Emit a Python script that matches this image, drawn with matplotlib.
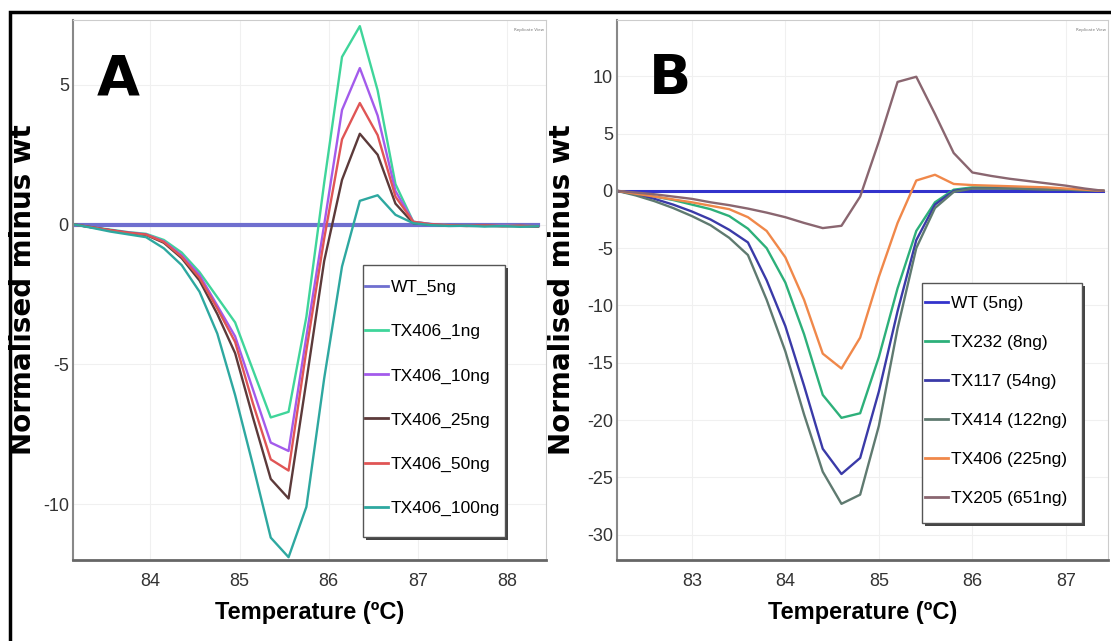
import matplotlib
matplotlib.use("Agg")
import matplotlib.pyplot as plt
from matplotlib import font_manager
from matplotlib.patches import Rectangle

# --- Panel A data (temperature, normalised minus wt) ---
temp_a = [83.15, 83.35, 83.55, 83.75, 83.95, 84.15, 84.35, 84.55, 84.75, 84.95,
          85.15, 85.35, 85.55, 85.75, 85.95, 86.15, 86.35, 86.55, 86.75, 86.95,
          87.15, 87.35, 87.55, 87.75, 87.95, 88.15, 88.35]
wt_5ng = [0.0] * 27
tx406_1ng = [0.0, -0.1, -0.18, -0.27, -0.33, -0.55, -1.0, -1.7, -2.6, -3.5,
             -5.2, -6.9, -6.7, -3.3, 1.5, 6.0, 7.1, 4.8, 1.45, 0.1,
             0.02, -0.02, -0.03, -0.04, -0.03, -0.05, -0.06]
tx406_10ng = [0.0, -0.1, -0.2, -0.28, -0.35, -0.6, -1.1, -1.8, -2.9, -4.0,
              -5.9, -7.8, -8.1, -4.0, 0.0, 4.1, 5.6, 3.9, 1.2, 0.1,
              0.02, -0.02, -0.03, -0.04, -0.03, -0.05, -0.06]
tx406_25ng = [0.0, -0.1, -0.2, -0.3, -0.37, -0.65, -1.2, -2.0, -3.2, -4.6,
              -6.9, -9.1, -9.8, -5.6, -1.3, 1.6, 3.25, 2.5, 0.75, 0.05,
              0.0, -0.03, -0.05, -0.04, -0.06, -0.05, -0.07]
tx406_50ng = [0.0, -0.1, -0.2, -0.29, -0.36, -0.62, -1.15, -1.9, -3.0, -4.2,
              -6.4, -8.4, -8.8, -4.5, -0.5, 3.05, 4.35, 3.2, 1.0, 0.1,
              0.01, -0.02, -0.04, -0.03, -0.05, -0.04, -0.06]
tx406_100ng = [0.0, -0.12, -0.25, -0.35, -0.45, -0.85, -1.45, -2.4, -3.9, -6.1,
               -8.6, -11.2, -11.9, -10.1, -5.5, -1.5, 0.85, 1.05, 0.35, 0.05,
               -0.02, -0.05, -0.04, -0.07, -0.05, -0.08, -0.06]

labels_a = ["WT_5ng", "TX406_1ng", "TX406_10ng", "TX406_25ng", "TX406_50ng", "TX406_100ng"]
series_a = [wt_5ng, tx406_1ng, tx406_10ng, tx406_25ng, tx406_50ng, tx406_100ng]
colors_a = ["#6f6fcf", "#3fd59a", "#a35beb", "#5c3a3a", "#e05555", "#2ea8a0"]

# --- Panel B data ---
temp_b = [82.2, 82.4, 82.6, 82.8, 83.0, 83.2, 83.4, 83.6, 83.8, 84.0,
          84.2, 84.4, 84.6, 84.8, 85.0, 85.2, 85.4, 85.6, 85.8, 86.0,
          86.2, 86.4, 86.6, 86.8, 87.0, 87.2, 87.4]
wt = [0.0] * 27
tx232 = [0.0, -0.25, -0.5, -0.8, -1.2, -1.6, -2.2, -3.3, -5.0, -8.0,
         -12.5, -17.8, -19.8, -19.4, -14.5, -8.5, -3.5, -1.0, 0.1, 0.3,
         0.3, 0.25, 0.2, 0.15, 0.1, 0.05, 0.0]
tx117 = [0.0, -0.3, -0.7, -1.2, -1.8, -2.5, -3.4, -4.5, -7.8, -11.8,
         -17.0, -22.5, -24.7, -23.3, -17.5, -10.5, -4.3, -1.2, 0.0, 0.2,
         0.2, 0.2, 0.15, 0.1, 0.1, 0.05, 0.0]
tx414 = [0.0, -0.4, -0.9, -1.5, -2.2, -3.0, -4.1, -5.6, -9.5, -14.0,
         -19.5, -24.5, -27.3, -26.5, -20.5, -12.0, -5.0, -1.5, -0.1, 0.2,
         0.2, 0.2, 0.15, 0.1, 0.1, 0.05, 0.0]
tx406 = [0.0, -0.25, -0.5, -0.75, -1.0, -1.3, -1.6, -2.3, -3.5, -5.8,
         -9.5, -14.2, -15.5, -12.8, -7.5, -2.8, 0.9, 1.4, 0.6, 0.5,
         0.45, 0.4, 0.35, 0.3, 0.2, 0.1, 0.0]
tx205 = [0.0, -0.15, -0.3, -0.5, -0.7, -1.0, -1.25, -1.55, -1.9, -2.3,
         -2.8, -3.25, -3.05, -0.5, 4.3, 9.5, 9.95, 6.7, 3.3, 1.6,
         1.3, 1.05, 0.85, 0.65, 0.45, 0.2, 0.0]

labels_b = ["WT (5ng)", "TX232 (8ng)", "TX117 (54ng)", "TX414 (122ng)", "TX406 (225ng)", "TX205 (651ng)"]
series_b = [wt, tx232, tx117, tx414, tx406, tx205]
colors_b = ["#3333cc", "#2db07a", "#3a3aa8", "#5f7a70", "#f0884a", "#8a6670"]

names = {f.name for f in font_manager.fontManager.ttflist}
narrow = "Liberation Sans Narrow" if "Liberation Sans Narrow" in names else "Liberation Sans"

fig = plt.figure(figsize=(11.11, 6.41), dpi=100)
W, H = 1111, 641


def px_rect(x0, y0, x1, y1):
    # figure-pixel box (top-left origin) -> figure fraction rect
    return [x0 / W, (H - y1) / H, (x1 - x0) / W, (y1 - y0) / H]


def style(ax, xticks, yticks, ylab_x):
    ax.set_xticks(xticks)
    ax.set_yticks(yticks)
    ax.set_xticklabels([str(t) for t in xticks], family=narrow, size=13, color="#333333")
    ax.set_yticklabels([str(t) for t in yticks], family=narrow, size=13, color="#333333")
    ax.tick_params(length=0)
    ax.tick_params(axis="x", pad=9)
    ax.tick_params(axis="y", pad=3)
    ax.grid(True, color="#f0f0f0", linewidth=0.8)
    ax.set_axisbelow(True)
    ax.spines["left"].set_color("#888888")
    ax.spines["left"].set_linewidth(1.5)
    ax.spines["bottom"].set_color("#666666")
    ax.spines["bottom"].set_linewidth(2)
    ax.spines["top"].set_color("#cccccc")
    ax.spines["right"].set_color("#cccccc")
    ax.set_xlabel("Temperature (\u00baC)", family=narrow, weight="bold", size=17, labelpad=8)
    ax.set_ylabel("Normalised minus wt", family="DejaVu Sans", weight="bold", size=20)
    ax.yaxis.set_label_coords(ylab_x, 0.5)
    ax.text(0.995, 0.985, "Replicate View", transform=ax.transAxes, ha="right", va="top",
            size=3, color="#777777")


def boxed_legend(ax, handles, texts, box, anchor, spacing):
    x0, y0, x1, y1 = box
    fig.add_artist(Rectangle((x0 / W + 3 / W, (H - y1) / H - 3 / H), (x1 - x0) / W, (y1 - y0) / H,
                             transform=fig.transFigure, facecolor="#444444", edgecolor="none", zorder=4))
    fig.add_artist(Rectangle(((x0) / W, (H - y1) / H), (x1 - x0) / W, (y1 - y0) / H,
                             transform=fig.transFigure, facecolor="white", edgecolor="#555555",
                             linewidth=1, zorder=4.1))
    leg = ax.legend(handles, texts, loc="upper left", bbox_to_anchor=anchor,
                    bbox_transform=fig.transFigure, borderaxespad=0, borderpad=0,
                    prop={"family": narrow, "size": 12.5}, handlelength=1.33,
                    handletextpad=0.15, labelspacing=spacing, frameon=False)
    leg.set_zorder(5)
    fig.add_artist(leg)
    for line in leg.get_lines():
        line.set_linewidth(2)
    return leg


order = [5, 0, 1, 2, 3, 4]

# Panel A
ax1 = fig.add_axes(px_rect(73, 20, 546, 560))
for vals, lab, col in zip(series_a[1:], labels_a[1:], colors_a[1:]):
    ax1.plot(temp_a, vals, color=col, lw=1.7, label=lab)
ax1.plot(temp_a, wt_5ng, color=colors_a[0], lw=3, label=labels_a[0], zorder=1.9)
ax1.set_xlim(83.13, 88.44)
ax1.set_ylim(-12.0, 7.32)
style(ax1, [84, 85, 86, 87, 88], [5, 0, -5, -10], (37 - 73) / 473)
ax1.text(0.05, 0.94, "A", transform=ax1.transAxes, family="DejaVu Sans", weight="bold",
         size=40, va="top", ha="left")
h, l = ax1.get_legend_handles_labels()
boxed_legend(ax1, [h[i] for i in order], [l[i] for i in order],
             (363, 265, 505, 537), (365 / W, (H - 280) / H), 1.66)

# Panel B
ax2 = fig.add_axes(px_rect(617, 20, 1108, 560))
for vals, lab, col in zip(series_b[1:], labels_b[1:], colors_b[1:]):
    ax2.plot(temp_b, vals, color=col, lw=1.7, label=lab)
ax2.plot(temp_b, wt, color=colors_b[0], lw=2.2, label=labels_b[0], zorder=1.9)
ax2.set_xlim(82.2, 87.45)
ax2.set_ylim(-32.2, 14.9)
style(ax2, [83, 84, 85, 86, 87], [10, 5, 0, -5, -10, -15, -20, -25, -30], (576 - 617) / 491)
ax2.text(0.065, 0.94, "B", transform=ax2.transAxes, family="DejaVu Sans", weight="bold",
         size=40, va="top", ha="left")
h, l = ax2.get_legend_handles_labels()
boxed_legend(ax2, [h[i] for i in order], [l[i] for i in order],
             (922, 283, 1082, 523), (925 / W, (H - 296) / H), 1.37)

# outer black frame (left and top edges visible)
fig.add_artist(Rectangle((10 / W, -0.05), 1.2, (H - 12) / H + 0.05, transform=fig.transFigure,
                         fill=False, edgecolor="black", linewidth=2.5))

fig.savefig("out.png", dpi=100)
